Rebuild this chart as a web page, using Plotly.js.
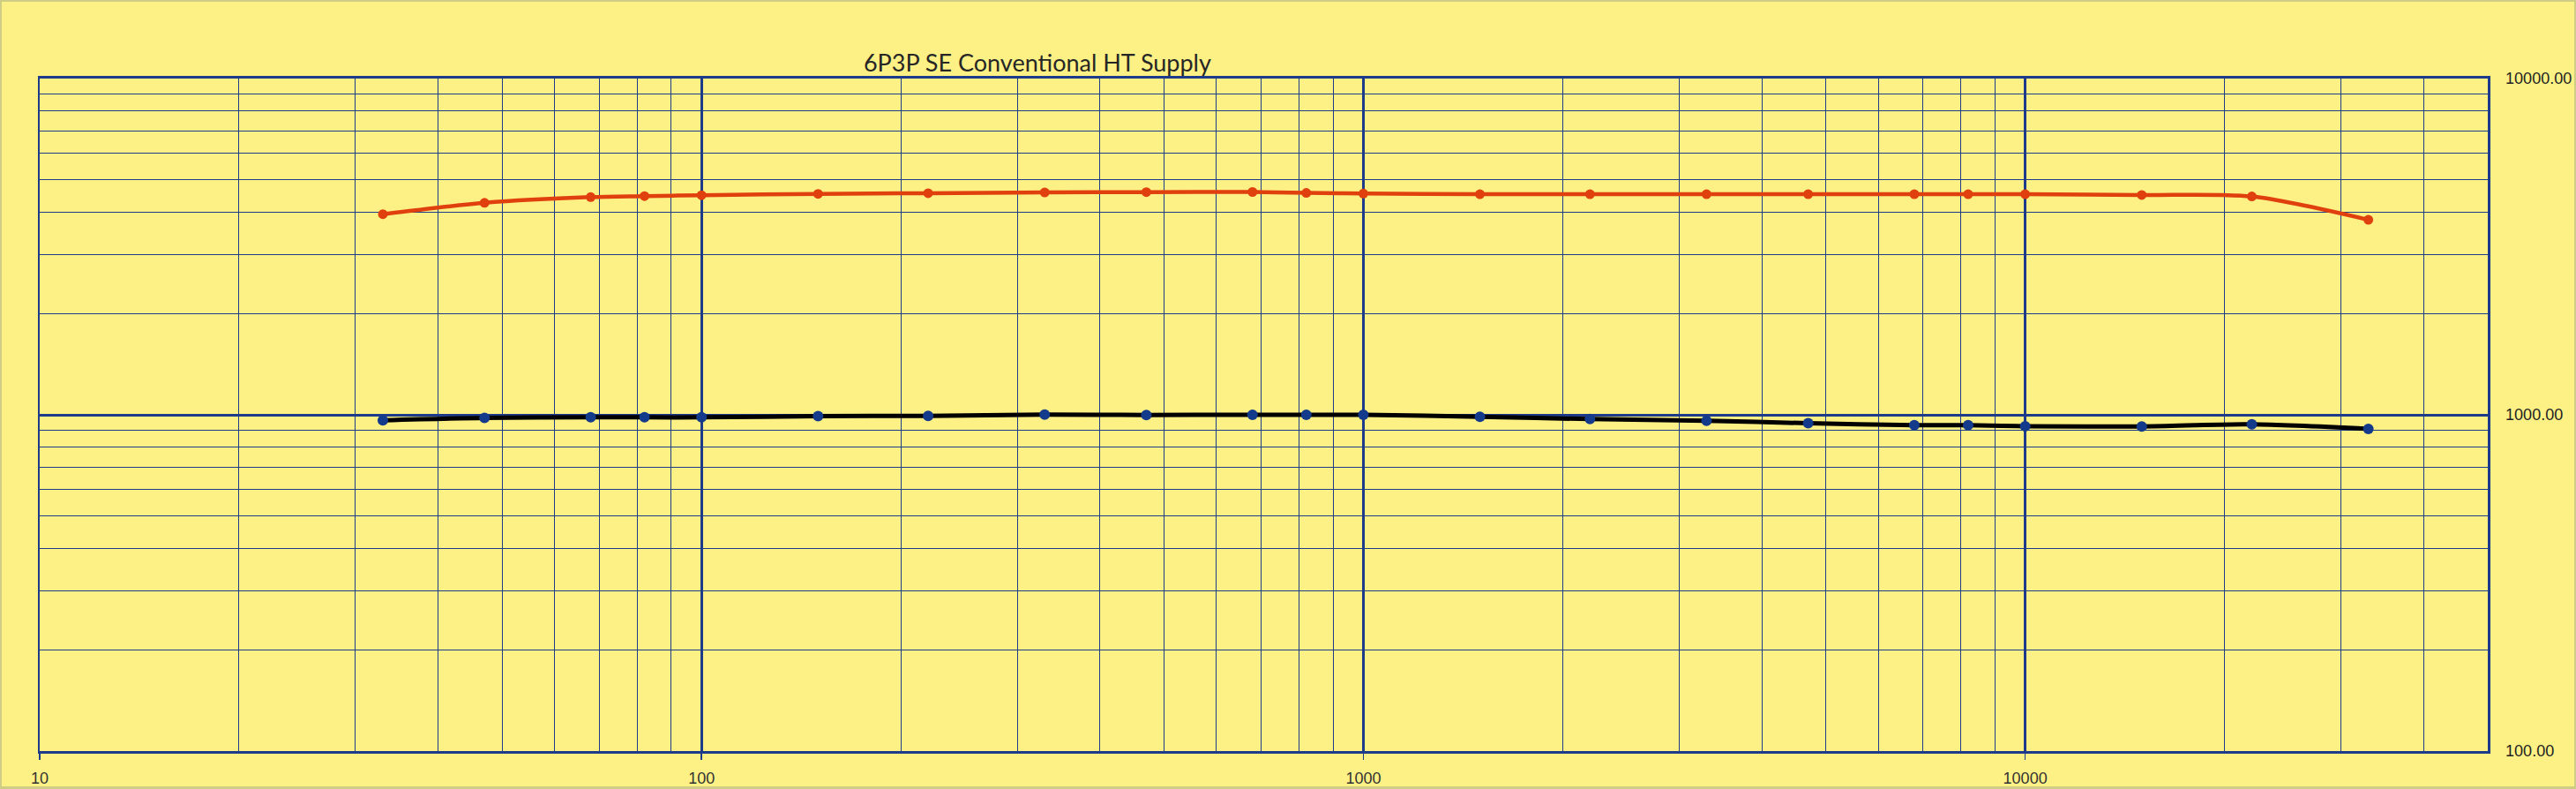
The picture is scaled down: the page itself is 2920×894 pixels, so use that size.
<!DOCTYPE html>
<html>
<head>
<meta charset="utf-8">
<script src="https://cdn.plot.ly/plotly-3.0.1.min.js"></script>
<style>
  html, body { margin: 0; padding: 0; background: #FDF185; }
  #wrap { position: relative; width: 2920px; height: 894px; }
  #chart { width: 2920px; height: 894px; }
  #frame { position: absolute; left: 0; top: 0; width: 2920px; height: 894px; box-sizing: border-box;
           border: 2px solid #CFCC86; border-bottom-width: 3px; pointer-events: none; }
</style>
</head>
<body>
<div id="wrap"><div id="chart"></div><div id="frame"></div></div>
<script>
// ---- data ----
const frequency = [33, 47, 68, 82, 100, 150, 220, 330, 470, 680, 820, 1000, 1500, 2200, 3300, 4700, 6800, 8200, 10000, 15000, 22000, 33000];
const upperSeries = [3950, 4270, 4440, 4470, 4500, 4540, 4560, 4585, 4595, 4600, 4570, 4550, 4530, 4530, 4530, 4530, 4530, 4530, 4530, 4505, 4460, 3800];
const lowerSeries = [963, 979, 983, 983, 983, 991, 993, 1001, 999, 1000, 1000, 1000, 987, 971, 960, 944, 931, 931, 925, 923, 937, 908];
const xTickVals = [10, 100, 1000, 10000];
const xTickText = ["10", "100", "1000", "10000"];
const yTickVals = [100, 1000, 10000];
const yTickText = ["100.00", "1000.00", "10000.00"];
const titleText = "6P3P SE Conventional HT Supply";

// minor grid positions (digits 2..9 of each decade)
const digits = [2, 3, 4, 5, 6, 7, 8, 9];
const xMinor = [];
[10, 100, 1000, 10000].forEach(d => digits.forEach(k => { if (k * d <= 50000) xMinor.push(k * d); }));
const yMinor = [];
[100, 1000].forEach(d => digits.forEach(k => yMinor.push(k * d)));

const navy = "#1E3A8A";
const bg = "#FDF185";

const traces = [
  {
    x: frequency, y: upperSeries, type: "scatter", mode: "lines+markers",
    line: { color: "#E0400E", width: 4.5, shape: "spline", smoothing: 0.8 },
    marker: { color: "#E0400E", size: 11 },
    hoverinfo: "skip"
  },
  {
    x: frequency, y: lowerSeries, type: "scatter", mode: "lines+markers",
    line: { color: "#000000", width: 5, shape: "spline", smoothing: 0.8 },
    marker: { color: "#143A8C", size: 12 },
    hoverinfo: "skip"
  }
];

const layout = {
  width: 2920, height: 894,
  paper_bgcolor: bg, plot_bgcolor: bg,
  showlegend: false,
  margin: { l: 45, r: 100, t: 89, b: 43, pad: 0 },
  title: {
    text: titleText,
    font: { family: "Lato, 'Open Sans', sans-serif", size: 27, color: "#262626" },
    x: 1190 / 2920, xanchor: "center", xref: "paper",
    y: 1 - 72 / 894, yanchor: "middle", yref: "container"
  },
  xaxis: {
    type: "log",
    range: [1, Math.log10(50000)],
    tickmode: "array", tickvals: xTickVals, ticktext: xTickText,
    ticks: "outside", ticklen: 7, tickwidth: 1.5, tickcolor: navy, ticklabelstandoff: 5,
    tickfont: { family: "'Liberation Sans', Arial, sans-serif", size: 18, color: "#333333" },
    showgrid: true, gridcolor: navy, gridwidth: 3,
    minor: { tickmode: "array", tickvals: xMinor, showgrid: true, gridcolor: navy, gridwidth: 1, ticks: "" },
    showline: true, linecolor: navy, linewidth: 3, mirror: true,
    zeroline: false, fixedrange: true
  },
  yaxis: {
    type: "log",
    range: [2, 4],
    side: "right",
    tickmode: "array", tickvals: yTickVals, ticktext: yTickText,
    ticks: "", ticklabelstandoff: 14,
    tickfont: { family: "'Liberation Sans', Arial, sans-serif", size: 18, color: "#222222" },
    showgrid: true, gridcolor: navy, gridwidth: 3,
    minor: { tickmode: "array", tickvals: yMinor, showgrid: true, gridcolor: navy, gridwidth: 1, ticks: "" },
    showline: true, linecolor: navy, linewidth: 2.5, mirror: true,
    zeroline: false, fixedrange: true
  }
};

Plotly.newPlot("chart", traces, layout, { staticPlot: true, displayModeBar: false });
</script>
</body>
</html>
